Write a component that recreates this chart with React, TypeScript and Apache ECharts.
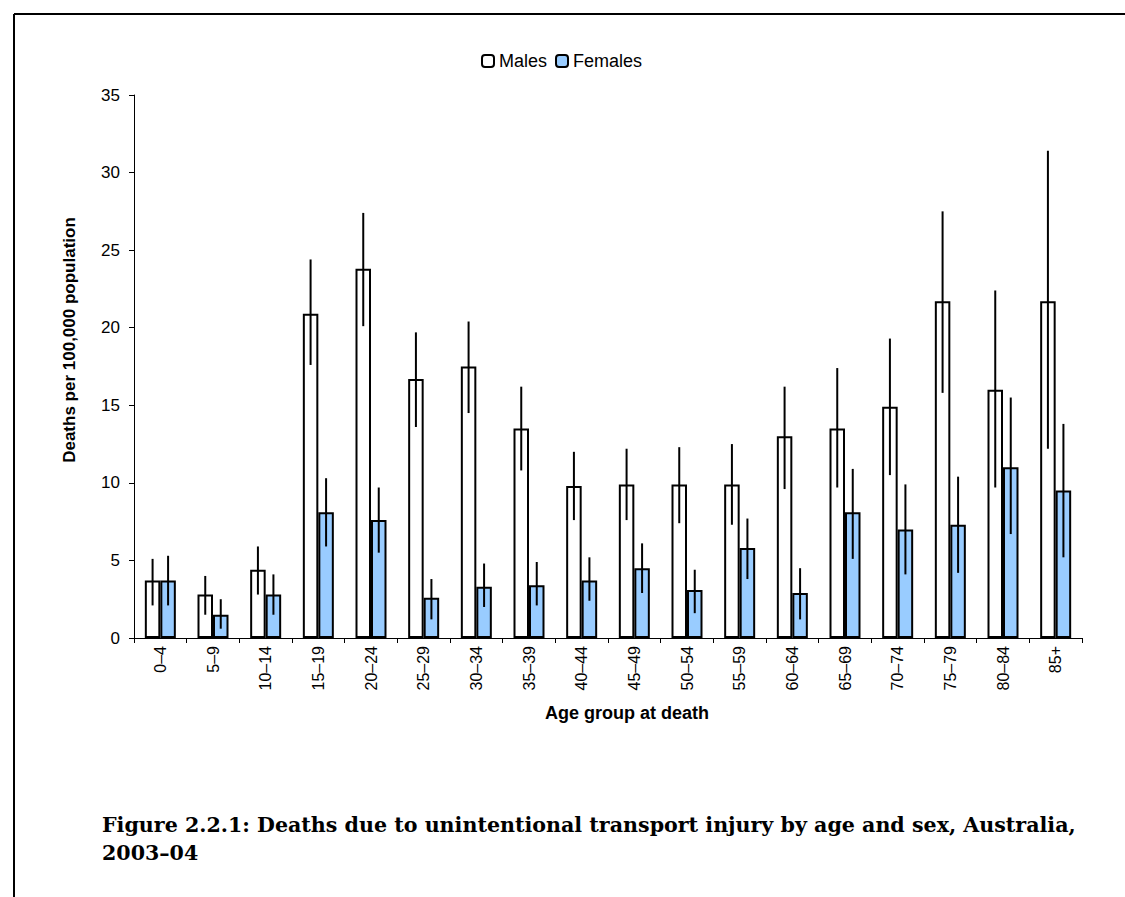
import React, { useEffect, useRef } from "react";
import * as echarts from "echarts";

const categories = ["0–4", "5–9", "10–14", "15–19", "20–24", "25–29", "30–34", "35–39", "40–44", "45–49", "50–54", "55–59", "60–64", "65–69", "70–74", "75–79", "80–84", "85+"];
const males = [3.7, 2.8, 4.4, 20.9, 23.8, 16.7, 17.5, 13.5, 9.8, 9.9, 9.9, 9.9, 13.0, 13.5, 14.9, 21.7, 16.0, 21.7];
const malesLow = [2.1, 1.5, 2.8, 17.6, 20.1, 13.6, 14.5, 10.8, 7.6, 7.6, 7.4, 7.3, 9.6, 9.7, 10.5, 15.8, 9.7, 12.2];
const malesHigh = [5.1, 4.0, 5.9, 24.4, 27.4, 19.7, 20.4, 16.2, 12.0, 12.2, 12.3, 12.5, 16.2, 17.4, 19.3, 27.5, 22.4, 31.4];
const females = [3.7, 1.5, 2.8, 8.1, 7.6, 2.6, 3.3, 3.4, 3.7, 4.5, 3.1, 5.8, 2.9, 8.1, 7.0, 7.3, 11.0, 9.5];
const femalesLow = [2.1, 0.6, 1.5, 5.9, 5.5, 1.2, 2.0, 2.1, 2.4, 2.9, 1.6, 3.8, 1.2, 5.1, 4.1, 4.2, 6.7, 5.2];
const femalesHigh = [5.3, 2.5, 4.1, 10.3, 9.7, 3.8, 4.8, 4.9, 5.2, 6.1, 4.4, 7.7, 4.5, 10.9, 9.9, 10.4, 15.5, 13.8];

const yAxisTitle = "Deaths per 100,000 population";
const xAxisTitle = "Age group at death";
const captionLine1 = "Figure 2.2.1: Deaths due to unintentional transport injury by age and sex, Australia,";
const captionLine2 = "2003–04";

const BAR_W = 15.5;
const FONT = "'Liberation Sans', Arial, sans-serif";

function errorSeries(name: string, low: number[], high: number[], side: number) {
  return {
    type: "custom",
    name: name + " error",
    z: 10,
    data: low.map((l, i) => [i, l, high[i]]),
    encode: { x: 0, y: [1, 2] },
    renderItem: (params: any, api: any) => {
      const i = api.value(0);
      const p1 = api.coord([i, api.value(1)]);
      const p2 = api.coord([i, api.value(2)]);
      const x = p1[0] + side * BAR_W / 2;
      return {
        type: "line",
        shape: { x1: x, y1: p1[1], x2: x, y2: p2[1] },
        style: { stroke: "#000", lineWidth: 2 },
      };
    },
    silent: true,
  };
}

export default function App() {
  const ref = useRef<HTMLDivElement>(null);
  useEffect(() => {
    const chart = echarts.init(ref.current!, null, { renderer: "svg" });
    chart.setOption({
      animation: false,
      backgroundColor: "#fff",
      legend: {
        top: 47,
        left: 476,
        itemWidth: 12,
        itemHeight: 12,
        itemGap: 8,
        textStyle: { fontFamily: FONT, fontSize: 18, color: "#000" },
        data: ["Males", "Females"],
      },
      grid: { left: 134, right: 43, top: 95, bottom: 259, containLabel: false },
      xAxis: {
        type: "category",
        data: categories,
        boundaryGap: true,
        axisLine: { lineStyle: { color: "#000", width: 1 } },
        axisTick: { show: true, length: 5, lineStyle: { color: "#000" } },
        axisLabel: { rotate: 90, margin: 8, fontFamily: FONT, fontSize: 16, color: "#000", interval: 0 },
      },
      yAxis: {
        type: "value",
        min: 0,
        max: 35,
        interval: 5,
        splitLine: { show: false },
        axisLine: { show: true, lineStyle: { color: "#000", width: 1 } },
        axisTick: { show: true, length: 5, lineStyle: { color: "#000" } },
        axisLabel: { margin: 14, fontFamily: FONT, fontSize: 17, color: "#000" },
      },
      series: [
        {
          type: "bar",
          name: "Males",
          data: males,
          barWidth: BAR_W,
          barGap: "0%",
          itemStyle: { color: "#fff", borderColor: "#000", borderWidth: 2 },
        },
        {
          type: "bar",
          name: "Females",
          data: females,
          barWidth: BAR_W,
          barGap: "0%",
          itemStyle: { color: "#99CCFF", borderColor: "#000", borderWidth: 2 },
        },
        errorSeries("Males", malesLow, malesHigh, -1),
        errorSeries("Females", femalesLow, femalesHigh, 1),
      ],
      graphic: [
        { type: "line", shape: { x1: 14, y1: 14, x2: 1125, y2: 14 }, style: { stroke: "#000", lineWidth: 2 } },
        { type: "line", shape: { x1: 14, y1: 14, x2: 14, y2: 897 }, style: { stroke: "#000", lineWidth: 2 } },
        {
          type: "text",
          x: 69,
          y: 340,
          rotation: Math.PI / 2,
          style: {
            text: yAxisTitle,
            fontFamily: FONT,
            fontWeight: "bold",
            fontSize: 17,
            fill: "#000",
            textAlign: "center",
            textVerticalAlign: "middle",
          },
        },
        {
          type: "text",
          x: 627,
          y: 713,
          style: {
            text: xAxisTitle,
            fontFamily: FONT,
            fontWeight: "bold",
            fontSize: 18,
            fill: "#000",
            textAlign: "center",
            textVerticalAlign: "middle",
          },
        },
        {
          type: "text",
          left: 102,
          top: 811,
          style: {
            text: captionLine1 + "\n" + captionLine2,
            fontFamily: "'DejaVu Serif', serif",
            fontWeight: "bold",
            fontSize: 20.6,
            lineHeight: 28,
            fill: "#000",
          },
        },
      ],
    });
    return () => chart.dispose();
  }, []);
  return <div ref={ref} style={{ position: "fixed", left: 0, top: 0, width: 1125, height: 897 }} />;
}
